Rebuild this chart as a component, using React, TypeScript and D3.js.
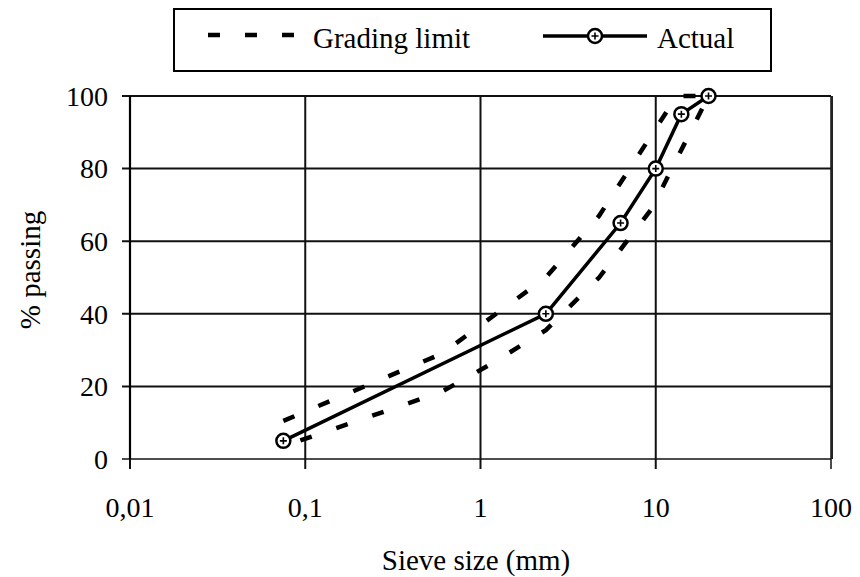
import React from "react";
import * as d3 from "d3";

const sieveTicks = [0.01, 0.1, 1, 10, 100];
const sieveTickLabels = ["0,01", "0,1", "1", "10", "100"];
const passingTicks = [0, 20, 40, 60, 80, 100];

const actualSize = [0.075, 2.36, 6.3, 10, 14, 20];
const actualPassing = [5, 40, 65, 80, 95, 100];

const upperSize = [0.075, 0.6, 2.36, 4.75, 13.2, 20];
const upperPassing = [10.5, 29, 50, 67, 100, 100];

const lowerSize = [0.075, 0.6, 1.18, 2.36, 4.75, 9.5, 20];
const lowerPassing = [3.5, 18.5, 26.5, 35.5, 50, 69, 100];

const W = 860;
const H = 577;
const FONT = "'Liberation Serif', 'Times New Roman', serif";

export default function App() {
  const x = d3.scaleLog().domain([0.01, 100]).range([130, 831]);
  const y = d3.scaleLinear().domain([0, 100]).range([459, 96]);

  const line = d3
    .line<[number, number]>()
    .x((d) => x(d[0]))
    .y((d) => y(d[1]));

  const actual = actualSize.map((s, i) => [s, actualPassing[i]] as [number, number]);
  const upper = upperSize.map((s, i) => [s, upperPassing[i]] as [number, number]);
  const lower = lowerSize.map((s, i) => [s, lowerPassing[i]] as [number, number]);

  const [x0, x1] = x.range();
  const [y0, y1] = y.range();

  const marker = (cx: number, cy: number, key: string) => (
    <g key={key}>
      <circle cx={cx} cy={cy} r={7} fill="#fff" stroke="#000" strokeWidth={2.5} />
      <path
        d={`M${cx - 3.5},${cy} H${cx + 3.5} M${cx},${cy - 3.5} V${cy + 3.5}`}
        stroke="#000"
        strokeWidth={1.6}
      />
    </g>
  );

  return (
    <svg
      width={W}
      height={H}
      style={{ position: "absolute", left: 0, top: 0, background: "#fff" }}
      fontFamily={FONT}
    >
      <rect x={0} y={0} width={W} height={H} fill="#fff" />
      {/* Legend */}
      <rect x={174} y={9} width={597} height={62} fill="none" stroke="#000" strokeWidth={2} />
      <line x1={208} x2={294} y1={35} y2={35} stroke="#000" strokeWidth={4.5} strokeDasharray="12,25" />
      <text x={313} y={48} fontSize={29} fill="#000">Grading limit</text>
      <line x1={543} x2={647} y1={36} y2={36} stroke="#000" strokeWidth={3.5} />
      {marker(595, 36, "leg")}
      <text x={657} y={48} fontSize={29} fill="#000">Actual</text>

      {/* Grid */}
      {passingTicks.map((t) => (
        <line key={"h" + t} x1={x0 - 8} x2={x1} y1={y(t)} y2={y(t)} stroke="#111" strokeWidth={t === 0 ? 1.5 : 2} />
      ))}
      {sieveTicks.map((t) => (
        <line key={"v" + t} x1={x(t)} x2={x(t)} y1={y1} y2={y0 + 10} stroke="#111" strokeWidth={t === 100 ? 1.5 : 2} />
      ))}
      <line x1={x0} x2={x0} y1={y1} y2={y0} stroke="#000" strokeWidth={2.2} />
      <line x1={x1 + 1} x2={x1 + 1} y1={y1} y2={y0} stroke="#222" strokeWidth={2} />

      {/* Tick labels */}
      {passingTicks.map((t) => (
        <text key={"yl" + t} x={108} y={y(t)} dy="0.35em" textAnchor="end" fontSize={28} fill="#000">
          {t}
        </text>
      ))}
      {sieveTicks.map((t, i) => (
        <text key={"xl" + t} x={x(t)} y={517} textAnchor="middle" fontSize={28} fill="#000">
          {sieveTickLabels[i]}
        </text>
      ))}

      {/* Axis titles */}
      <text x={476} y={570} textAnchor="middle" fontSize={29} fill="#000">Sieve size (mm)</text>
      <text
        transform={`translate(40,270) rotate(-90)`}
        textAnchor="middle"
        fontSize={29}
        fill="#000"
      >
        % passing
      </text>

      {/* Grading limits */}
      <path d={line(upper) || ""} fill="none" stroke="#000" strokeWidth={4.5} strokeDasharray="12,26" />
      <path d={line(lower) || ""} fill="none" stroke="#000" strokeWidth={4.5} strokeDasharray="12,26" strokeDashoffset={20} />

      {/* Actual */}
      <path d={line(actual) || ""} fill="none" stroke="#000" strokeWidth={3.5} />
      {actual.map((d, i) => marker(x(d[0]), y(d[1]), "m" + i))}
    </svg>
  );
}
